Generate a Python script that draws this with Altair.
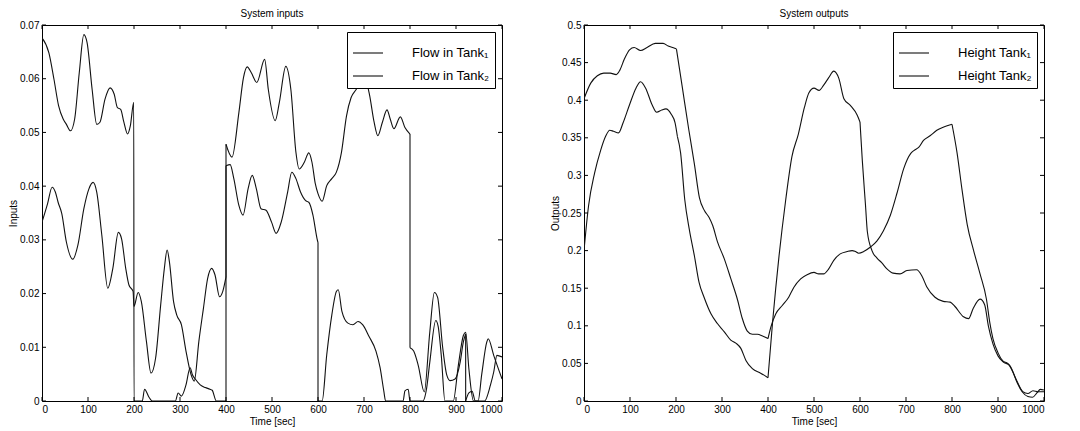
import altair as alt
import pandas as pd

# ---------------- System inputs (left panel) ----------------
in1_t = [0, 15, 26, 36, 46, 53, 62, 71, 81, 91, 98, 109, 119, 126, 137, 148, 157, 164, 171, 178, 186, 192, 199.5,
         200, 218, 223, 232, 240, 290, 296, 303, 313, 322, 327, 334, 344, 355, 365, 370, 379, 400,
         400, 413, 428, 438, 446, 455, 467, 484, 492, 507, 516, 530, 541, 552, 559, 570, 580, 587, 594, 600,
         609, 619, 630, 640, 651, 662, 672, 683, 700, 712, 722, 730, 740, 750, 757, 765, 779, 789, 800,
         800, 808, 818, 831, 843, 853, 860, 871, 880, 887, 898, 909, 916, 921, 921, 928, 935, 942, 948, 956,
         967, 970, 982, 1000]
in1_v = [0.0676, 0.0648, 0.0599, 0.055, 0.0525, 0.0515, 0.0503, 0.0525, 0.0611, 0.0682, 0.0667, 0.058, 0.0515,
         0.0519, 0.0562, 0.0583, 0.0571, 0.0546, 0.0543, 0.0519, 0.0497, 0.0512, 0.0556,
         0, 0, 0.0022, 0.0008, 0, 0, 0.0015, 0.0009, 0.003, 0.0062, 0.0049, 0.004, 0.003, 0.0025, 0.0022, 0.002, 0, 0,
         0.0478, 0.0454, 0.0537, 0.0602, 0.0622, 0.0611, 0.0593, 0.0636, 0.058, 0.0522, 0.0556, 0.0623, 0.058, 0.0463,
         0.0432, 0.0444, 0.0462, 0.0444, 0.0405, 0.0386,
         0.0372, 0.0401, 0.0414, 0.0426, 0.0463, 0.0531, 0.0565, 0.058, 0.0605, 0.057, 0.0519, 0.0494, 0.0519, 0.0542,
         0.0525, 0.0507, 0.0529, 0.0509, 0.0497,
         0.0099, 0.0093, 0.0066, 0.0017, 0.0128, 0.0202, 0.0193, 0.01, 0.0048, 0.0038, 0.0041, 0.0072, 0.011, 0.0125,
         0, 0.0015, 0.0018, 0, 0, 0.005, 0.011, 0.0116, 0.0085, 0.0041]

in2_t = [0, 12, 22, 29, 35, 43, 53, 67, 78, 91, 102, 111, 119, 130, 143, 154, 166, 173, 182, 189, 198, 200,
         209, 216, 227, 237, 247, 258, 266, 272, 277, 286, 293, 303, 313, 324, 331, 341, 351, 360, 369, 376, 386,
         393, 400,
         400, 409, 417, 428, 437, 448, 457, 466, 476, 487, 499, 509, 520, 534, 543, 552, 562, 573, 580, 589, 598, 600,
         600, 609, 619, 630, 640, 644, 652, 665, 676, 687, 697, 711, 726, 735, 743, 747, 785, 789, 796, 800,
         828, 836, 843, 856, 861, 868, 876, 894, 905, 916, 921, 928, 938, 962, 975, 982, 989, 1000]
in2_v = [0.0333, 0.0367, 0.0398, 0.0389, 0.037, 0.0349, 0.0296, 0.0264, 0.029, 0.0358, 0.0395, 0.0407, 0.0389,
         0.0309, 0.021, 0.0247, 0.0314, 0.0302, 0.0247, 0.0216, 0.0204, 0.0176,
         0.0202, 0.0185, 0.0111, 0.0052, 0.008, 0.0179, 0.0247, 0.0281, 0.0259, 0.0185, 0.016, 0.0142, 0.0093,
         0.0049, 0.0037, 0.0111, 0.0173, 0.0228, 0.0247, 0.0235, 0.0194, 0.0204, 0.0231,
         0.0438, 0.044, 0.0414, 0.0364, 0.0346, 0.0395, 0.042, 0.0395, 0.0358, 0.0355, 0.0333, 0.0312, 0.0333,
         0.0389, 0.0426, 0.0414, 0.0389, 0.0373, 0.037, 0.0346, 0.0302, 0.0295,
         0, 0, 0.0086, 0.016, 0.0204, 0.0207, 0.0167, 0.0145, 0.0142, 0.0148, 0.0142, 0.012, 0.0093, 0.0062,
         0.0019, 0, 0, 0.0019, 0.0022, 0,
         0, 0.0023, 0.0072, 0.015, 0.014, 0.0085, 0, 0, 0.0066, 0.0122, 0.0128, 0.006, 0, 0, 0.003, 0.0054,
         0.0085, 0.0082]

# ---------------- System outputs (right panel) ----------------
out1_t = [0, 15, 29, 43, 57, 70, 78, 88, 99, 109, 123, 137, 155, 172, 183, 197, 201, 201, 214, 228, 240, 251, 262,
          272, 280, 290, 305, 319, 334, 344, 355, 366, 377, 388, 400, 400, 406, 417, 431, 445, 456, 471, 485, 500,
          510, 521, 532, 543, 557, 572, 583, 590, 597, 608, 622, 637, 651, 666, 681, 695, 710, 717, 728, 738,
          753, 767, 782, 800, 800, 811, 822, 833, 847, 861, 875, 882, 889, 900, 911, 921, 932, 942, 953, 965, 975,
          985, 992, 1000]
out1_v = [0.402, 0.423, 0.4325, 0.436, 0.436, 0.434, 0.44, 0.455, 0.467, 0.47, 0.466, 0.47, 0.4755, 0.4755,
          0.472, 0.469, 0.468, 0.468, 0.416, 0.36, 0.315, 0.27, 0.253, 0.244, 0.233, 0.212, 0.189, 0.163, 0.134,
          0.11, 0.093, 0.0887, 0.0887, 0.0865, 0.083, 0.083, 0.098, 0.116, 0.127, 0.138, 0.151, 0.1625, 0.168, 0.171,
          0.169, 0.169, 0.1757, 0.187, 0.1956, 0.1987, 0.2, 0.1987, 0.1965, 0.1987, 0.2044, 0.213, 0.2265,
          0.247, 0.2776, 0.309, 0.329, 0.333, 0.3376, 0.3465, 0.353, 0.36, 0.3643, 0.368, 0.368, 0.33, 0.28, 0.235,
          0.2, 0.169, 0.135, 0.105, 0.083, 0.064, 0.053, 0.05, 0.039, 0.024, 0.012, 0.006, 0.005, 0.011,
          0.0155, 0.0146]

out2_t = [0, 10, 23, 36, 47, 56, 64, 75, 85, 99, 113, 123, 134, 148, 158, 169, 178, 190, 198, 203, 203, 210, 219,
          229, 240, 250, 261, 276, 290, 305, 319, 330, 341, 352, 366, 384, 400, 400, 410, 424, 438, 452, 466, 479,
          489, 500, 511, 521, 532, 543, 554, 565, 579, 594, 600, 600, 605, 612, 616, 626, 637, 647, 658, 672, 687,
          702, 723, 734, 745, 763, 781, 796, 806, 825, 836, 846, 861, 871, 879, 889, 900, 911, 925, 940, 954,
          965, 976, 987, 1000]
out2_v = [0.2, 0.26, 0.303, 0.333, 0.352, 0.36, 0.3587, 0.3565, 0.37, 0.394, 0.416, 0.4245, 0.416, 0.394,
          0.384, 0.387, 0.3885, 0.381, 0.37, 0.352, 0.352, 0.33, 0.268, 0.228, 0.193, 0.158, 0.138, 0.116, 0.103,
          0.092, 0.081, 0.077, 0.07, 0.054, 0.043, 0.037, 0.031, 0.031, 0.105, 0.193, 0.265, 0.325, 0.355, 0.39,
          0.41, 0.416, 0.413, 0.42, 0.43, 0.4386, 0.429, 0.402, 0.393, 0.38, 0.371, 0.371, 0.32, 0.26, 0.225, 0.2,
          0.19, 0.184, 0.176, 0.17, 0.169, 0.1735, 0.1745, 0.167, 0.152, 0.138, 0.1325, 0.1315, 0.126, 0.112,
          0.1095, 0.123, 0.1355, 0.128, 0.1, 0.076, 0.06, 0.052, 0.0477, 0.028, 0.0124, 0.01, 0.0137, 0.0124,
          0.0124]

x_ticks = [0, 100, 200, 300, 400, 500, 600, 700, 800, 900, 1000]
in_y_ticks = [0, 0.01, 0.02, 0.03, 0.04, 0.05, 0.06, 0.07]
out_y_ticks = [0, 0.05, 0.1, 0.15, 0.2, 0.25, 0.3, 0.35, 0.4, 0.45, 0.5]
in_labels = ["Flow in Tank\u2081", "Flow in Tank\u2082"]
out_labels = ["Height Tank\u2081", "Height Tank\u2082"]

FONT = "Liberation Sans"
W, H = 460, 376
TL = 4
LINE = "#111111"


def build_rows(labels, series):
    """Split each series into smooth pieces at repeated times (jumps / corners)."""
    rows = []
    seg = 0
    for lab, (ts, vs) in zip(labels, series):
        seg += 1
        for i in range(len(ts)):
            if i > 0 and ts[i] == ts[i - 1]:
                seg += 1
                rows.append({"t": ts[i - 1], "v": vs[i - 1], "series": lab, "seg": seg, "i": 0})
                rows.append({"t": ts[i], "v": vs[i], "series": lab, "seg": seg, "i": 1})
                seg += 1
            rows.append({"t": ts[i], "v": vs[i], "series": lab, "seg": seg, "i": i})
    return pd.DataFrame(rows)


def panel(t1, v1, t2, v2, labels, yticks, ymax, title, ytitle):
    df = build_rows(labels, [(t1, v1), (t2, v2)])
    xs = alt.Scale(domain=[0, 1000], nice=False, zero=False)
    ys = alt.Scale(domain=[0, ymax], nice=False, zero=False)
    x_axis = alt.Axis(values=x_ticks, title="Time [sec]", ticks=False, domain=False, grid=False,
                      labelPadding=3, format="d", titlePadding=2)
    y_axis = alt.Axis(values=yticks, title=ytitle, ticks=False, domain=False, grid=False,
                      labelPadding=3, format=".2~f", titlePadding=1)
    lines = alt.Chart(df).mark_line(strokeWidth=1.1, clip=True, interpolate="monotone").encode(
        x=alt.X("t:Q", scale=xs, axis=x_axis),
        y=alt.Y("v:Q", scale=ys, axis=y_axis),
        color=alt.Color("series:N", scale=alt.Scale(domain=labels, range=[LINE, LINE]),
                        legend=alt.Legend(orient="top-right", offset=7, title=None, strokeColor="black",
                                          fillColor="white", padding=5, symbolType="stroke",
                                          symbolSize=900, symbolStrokeWidth=1.1, labelFontSize=13,
                                          labelFont=FONT, labelOffset=28, rowPadding=0,
                                          labelColor="black")),
        detail="seg:N",
        order=alt.Order("i:Q"),
    )
    xt = pd.DataFrame({"t": x_ticks})
    yt = pd.DataFrame({"v": yticks})
    bottom = alt.Chart(xt).mark_rule(color="black", strokeWidth=1).encode(
        x=alt.X("t:Q", scale=xs, axis=x_axis), y=alt.value(H), y2=alt.value(H - TL))
    top = alt.Chart(xt).mark_rule(color="black", strokeWidth=1).encode(
        x=alt.X("t:Q", scale=xs, axis=x_axis), y=alt.value(0), y2=alt.value(TL))
    left = alt.Chart(yt).mark_rule(color="black", strokeWidth=1).encode(
        y=alt.Y("v:Q", scale=ys, axis=y_axis), x=alt.value(0), x2=alt.value(TL))
    right = alt.Chart(yt).mark_rule(color="black", strokeWidth=1).encode(
        y=alt.Y("v:Q", scale=ys, axis=y_axis), x=alt.value(W), x2=alt.value(W - TL))
    return alt.layer(lines, bottom, top, left, right).properties(
        width=W, height=H,
        title=alt.TitleParams(title, fontSize=10, fontWeight="normal", font=FONT, offset=1, color="black"))


left_panel = panel(in1_t, in1_v, in2_t, in2_v, in_labels, in_y_ticks, 0.07, "System inputs", "Inputs")
right_panel = panel(out1_t, out1_v, out2_t, out2_v, out_labels, out_y_ticks, 0.5, "System outputs", "Outputs")

chart = alt.hconcat(left_panel, right_panel, spacing=47, padding=0).resolve_scale(
    color="independent"
).configure_view(
    stroke="black", strokeWidth=1
).configure_axis(
    labelFont=FONT, labelFontSize=10, labelColor="black", titleFont=FONT, titleFontSize=10,
    titleFontWeight="normal", titleColor="black"
)

chart.save("out.html", embed_options={"renderer": "svg", "actions": False})
